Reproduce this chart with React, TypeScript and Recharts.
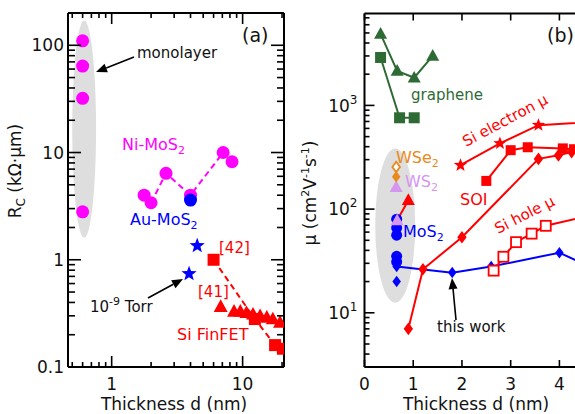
import React from 'react';
import { LineChart, Line, XAxis, YAxis, ReferenceArea } from 'recharts';

const FONT = '"DejaVu Sans", Verdana, sans-serif';

// ---------------- Panel (a) data : contact resistance R_C vs thickness ----------------
const aMonolayer = [
  { x: 0.6, y: 110 },
  { x: 0.6, y: 64 },
  { x: 0.6, y: 32 },
  { x: 0.6, y: 2.8 },
];
const aNiMoS2 = [
  { x: 1.77, y: 4.0 },
  { x: 2.0, y: 3.4 },
  { x: 2.6, y: 6.4 },
  { x: 4.0, y: 4.0 },
  { x: 7.1, y: 10 },
  { x: 8.3, y: 8.2 },
];
const aAuMoS2 = [{ x: 4.0, y: 3.6 }];
const aAuStars = [
  { x: 4.5, y: 1.35 },
  { x: 3.9, y: 0.74 },
];
const aFinFET42 = [
  { x: 6.0, y: 1.0 },
  { x: 12.4, y: 0.28 },
  { x: 17.7, y: 0.16 },
  { x: 20.3, y: 0.148 },
];
const aFinFET41 = [
  { x: 6.8, y: 0.365 },
  { x: 8.6, y: 0.33 },
  { x: 9.6, y: 0.33 },
  { x: 10.7, y: 0.32 },
  { x: 12.0, y: 0.31 },
  { x: 13.6, y: 0.3 },
  { x: 15.3, y: 0.29 },
  { x: 17.0, y: 0.28 },
  { x: 19.3, y: 0.26 },
];
const aXTicks = [0.5, 0.6, 0.7, 0.8, 0.9, 1, 2, 3, 4, 5, 6, 7, 8, 9, 10, 20];
const aYTicks = [
  0.1, 0.2, 0.3, 0.4, 0.5, 0.6, 0.7, 0.8, 0.9,
  1, 2, 3, 4, 5, 6, 7, 8, 9,
  10, 20, 30, 40, 50, 60, 70, 80, 90,
  100, 200,
];

// ---------------- Panel (b) data : mobility vs thickness ----------------
const bGrapheneTri = [
  { x: 0.33, y: 4900 },
  { x: 0.67, y: 2150 },
  { x: 1.02, y: 1850 },
  { x: 1.4, y: 3000 },
];
const bGrapheneSq = [
  { x: 0.33, y: 2900 },
  { x: 0.72, y: 760 },
  { x: 1.02, y: 760 },
];
const bWSe2Hollow = [{ x: 0.65, y: 255 }];
const bWSe2Filled = [{ x: 0.65, y: 205 }];
const bWS2 = [
  { x: 0.65, y: 163 },
  { x: 0.67, y: 78 },
];
const bRedTri = [
  { x: 0.67, y: 78 },
  { x: 0.9, y: 122 },
];
const bMoS2Circles = [
  { x: 0.66, y: 80 },
  { x: 0.66, y: 66 },
  { x: 0.66, y: 56 },
  { x: 0.66, y: 35 },
  { x: 0.66, y: 31 },
];
const bMoS2Diamond = [{ x: 0.66, y: 20 }];
const bThisWork = [
  { x: 0.66, y: 28 },
  { x: 1.8, y: 24.4 },
  { x: 2.6, y: 27.9 },
  { x: 4.0, y: 38 },
  { x: 5.0, y: 23 },
];
const bSOIDiamond = [
  { x: 0.9, y: 7 },
  { x: 1.2, y: 26.3 },
  { x: 2.0, y: 53.5 },
  { x: 3.57, y: 305 },
  { x: 3.98, y: 330 },
  { x: 4.25, y: 355 },
];
const bSOISquare = [
  { x: 2.5, y: 187 },
  { x: 3.0, y: 370 },
  { x: 3.35, y: 395 },
  { x: 4.07, y: 385 },
  { x: 4.3, y: 378 },
];
const bSiElectron = [
  { x: 1.97, y: 265 },
  { x: 2.78, y: 430 },
  { x: 3.57, y: 645 },
  { x: 5.0, y: 710 },
];
const bSiHole = [
  { x: 2.65, y: 25.5 },
  { x: 2.85, y: 34.7 },
  { x: 3.11, y: 48 },
  { x: 3.43, y: 58 },
  { x: 3.72, y: 69 },
  { x: 5.0, y: 95 },
];
const bXTicks = [0, 1, 2, 3, 4];
const bYTicks = [
  3, 4, 5, 6, 7, 8, 9,
  10, 20, 30, 40, 50, 60, 70, 80, 90,
  100, 200, 300, 400, 500, 600, 700, 800, 900,
  1000, 2000, 3000, 4000, 5000, 6000, 7000,
];

// ---------------- colours ----------------
const MAGENTA = '#ff00ff';
const BLUE = '#0000ff';
const RED = '#ff0000';
const GREEN = '#2e6b34';
const ORANGE = '#e8891c';
const LAVENDER = '#d596ef';
const GRAYFILL = '#dedede';

type Shape = 'circle' | 'square' | 'triangle' | 'diamond' | 'star';

function Marker({ shape, cx, cy, s, color, hollow }: any) {
  const fill = hollow ? '#ffffff' : color;
  const stroke = hollow ? color : 'none';
  const sw = hollow ? 1.8 : 0;
  const h = s / 2;
  if (shape === 'circle') return <circle cx={cx} cy={cy} r={h} fill={fill} stroke={stroke} strokeWidth={sw} />;
  if (shape === 'square')
    return <rect x={cx - h} y={cy - h} width={s} height={s} fill={fill} stroke={stroke} strokeWidth={sw} />;
  if (shape === 'triangle')
    return (
      <polygon
        points={`${cx},${cy - h * 1.05} ${cx + h},${cy + h * 0.75} ${cx - h},${cy + h * 0.75}`}
        fill={fill}
        stroke={stroke}
        strokeWidth={sw}
      />
    );
  if (shape === 'diamond')
    return (
      <polygon
        points={`${cx},${cy - h * 1.15} ${cx + h * 0.85},${cy} ${cx},${cy + h * 1.15} ${cx - h * 0.85},${cy}`}
        fill={fill}
        stroke={stroke}
        strokeWidth={sw}
      />
    );
  const pts: string[] = [];
  for (let i = 0; i < 10; i++) {
    const r = i % 2 ? h * 0.42 : h;
    const a = (-90 + 36 * i) * (Math.PI / 180);
    pts.push(`${cx + r * Math.cos(a)},${cy + r * Math.sin(a)}`);
  }
  return <polygon points={pts.join(' ')} fill={fill} stroke={stroke} strokeWidth={sw} />;
}

const dotOf = (shape: Shape, s: number, color: string, hollow = false) => (props: any) => {
  const { cx, cy, index } = props;
  if (cx == null || cy == null || !isFinite(cx) || !isFinite(cy)) return <g key={`n${index}`} />;
  return <Marker key={`m${index}`} shape={shape} cx={cx} cy={cy} s={s} color={color} hollow={hollow} />;
};

const isMajorLog = (v: number) => Math.abs(Math.log10(v) - Math.round(Math.log10(v))) < 1e-9;

type TickOpts = {
  side: 'bottom' | 'top' | 'left' | 'right';
  isMajor: (v: number) => boolean;
  major: number;
  minor: number;
  label?: (v: number) => React.ReactNode;
  off?: number;
};

const makeTick = (o: TickOpts) => (props: any) => {
  const { x, y, payload } = props;
  const v = payload.value;
  const major = o.isMajor(v);
  const len = major ? o.major : o.minor;
  let ln;
  if (o.side === 'bottom') ln = <line x1={x} y1={y} x2={x} y2={y - len} />;
  else if (o.side === 'top') ln = <line x1={x} y1={y} x2={x} y2={y + len} />;
  else if (o.side === 'left') ln = <line x1={x} y1={y} x2={x + len} y2={y} />;
  else ln = <line x1={x} y1={y} x2={x - len} y2={y} />;
  let lab = null;
  if (o.label && major) {
    if (o.side === 'bottom')
      lab = (
        <text x={x} y={y + (o.off ?? 23)} textAnchor="middle" fontSize={17} fontFamily={FONT} fill="#111">
          {o.label(v)}
        </text>
      );
    else if (o.side === 'left')
      lab = (
        <text x={x - (o.off ?? 4)} y={y} dy="0.36em" textAnchor="end" fontSize={17} fontFamily={FONT} fill="#111">
          {o.label(v)}
        </text>
      );
  }
  return (
    <g stroke="#000" strokeWidth={1.6}>
      {ln}
      <g stroke="none">{lab}</g>
    </g>
  );
};

const axisLine = { stroke: '#000', strokeWidth: 2 };

const ellipseShape = (p: any) => (
  <ellipse cx={p.x + p.width / 2} cy={p.y + p.height / 2} rx={p.width / 2} ry={p.height / 2} fill={GRAYFILL} />
);

function PanelA() {
  const common = {
    type: 'number' as const,
    scale: 'log' as const,
    allowDataOverflow: true,
    interval: 0 as const,
    tickSize: 0,
    tickMargin: 0,
    axisLine,
    tickLine: false,
  };
  return (
    <LineChart width={290} height={414} margin={{ top: 12, right: 5, bottom: 46, left: 67 }}>
      <XAxis
        xAxisId="b"
        dataKey="x"
        {...common}
        domain={[0.464, 20.7]}
        ticks={aXTicks}
        height={1}
        tick={makeTick({ side: 'bottom', isMajor: isMajorLog, major: 11, minor: 5, label: (v) => String(v) })}
      />
      <XAxis
        xAxisId="t"
        dataKey="x"
        orientation="top"
        {...common}
        domain={[0.464, 20.7]}
        ticks={aXTicks}
        height={1}
        tick={makeTick({ side: 'top', isMajor: isMajorLog, major: 11, minor: 5 })}
      />
      <YAxis
        yAxisId="l"
        {...common}
        domain={[0.1, 200]}
        ticks={aYTicks}
        width={1}
        tick={makeTick({ side: 'left', isMajor: isMajorLog, major: 13, minor: 7, label: (v) => String(v), off: 4 })}
      />
      <YAxis
        yAxisId="r"
        orientation="right"
        {...common}
        domain={[0.1, 200]}
        ticks={aYTicks}
        width={1}
        tick={makeTick({ side: 'right', isMajor: isMajorLog, major: 13, minor: 7 })}
      />
      <ReferenceArea xAxisId="b" yAxisId="l" x1={0.5} x2={0.76} y1={1.6} y2={170} shape={ellipseShape} />
      <Line xAxisId="b" yAxisId="l" data={aMonolayer} dataKey="y" stroke="none" dot={dotOf('circle', 13, MAGENTA)} activeDot={false} isAnimationActive={false} />
      <Line xAxisId="b" yAxisId="l" data={aNiMoS2} dataKey="y" stroke={MAGENTA} strokeWidth={2} strokeDasharray="6 4" dot={dotOf('circle', 13, MAGENTA)} activeDot={false} isAnimationActive={false} />
      <Line xAxisId="b" yAxisId="l" data={aAuMoS2} dataKey="y" stroke="none" dot={dotOf('circle', 13, BLUE)} activeDot={false} isAnimationActive={false} />
      <Line xAxisId="b" yAxisId="l" data={aAuStars} dataKey="y" stroke="none" dot={dotOf('star', 16, BLUE)} activeDot={false} isAnimationActive={false} />
      <Line xAxisId="b" yAxisId="l" data={aFinFET42} dataKey="y" stroke={RED} strokeWidth={2} strokeDasharray="6 4" dot={dotOf('square', 12, RED)} activeDot={false} isAnimationActive={false} />
      <Line xAxisId="b" yAxisId="l" data={aFinFET41} dataKey="y" stroke="none" dot={dotOf('triangle', 14, RED)} activeDot={false} isAnimationActive={false} />
    </LineChart>
  );
}

const sup = (n: number) => (
  <>
    10
    <tspan fontSize={12} dy={-8}>
      {n}
    </tspan>
  </>
);

function PanelB() {
  const commonX = {
    type: 'number' as const,
    allowDataOverflow: true,
    interval: 0 as const,
    tickSize: 0,
    tickMargin: 0,
    axisLine,
    tickLine: false,
  };
  return (
    <LineChart width={285} height={414} margin={{ top: 12.5, right: 0, bottom: 46, left: 73.5 }}>
      <XAxis
        xAxisId="b"
        dataKey="x"
        {...commonX}
        domain={[0, 4.32]}
        ticks={bXTicks}
        height={1}
        tick={makeTick({ side: 'bottom', isMajor: () => true, major: 7, minor: 7, label: (v) => String(v) })}
      />
      <XAxis
        xAxisId="t"
        dataKey="x"
        orientation="top"
        {...commonX}
        domain={[0, 4.32]}
        ticks={bXTicks}
        height={1}
        tick={makeTick({ side: 'top', isMajor: () => true, major: 7, minor: 7 })}
      />
      <YAxis
        yAxisId="l"
        {...commonX}
        scale="log"
        domain={[3, 7700]}
        ticks={bYTicks}
        width={1}
        tick={makeTick({ side: 'left', isMajor: isMajorLog, major: 10, minor: 5, label: (v) => sup(Math.round(Math.log10(v))), off: 7 })}
      />
      <ReferenceArea xAxisId="b" yAxisId="l" x1={0.22} x2={1.04} y1={12.5} y2={385} shape={ellipseShape} />
      <Line xAxisId="b" yAxisId="l" data={bGrapheneTri} dataKey="y" stroke={GREEN} strokeWidth={2} dot={dotOf('triangle', 13, GREEN)} activeDot={false} isAnimationActive={false} />
      <Line xAxisId="b" yAxisId="l" data={bGrapheneSq} dataKey="y" stroke={GREEN} strokeWidth={2} dot={dotOf('square', 11, GREEN)} activeDot={false} isAnimationActive={false} />
      <Line xAxisId="b" yAxisId="l" data={bThisWork} dataKey="y" stroke={BLUE} strokeWidth={2} dot={dotOf('diamond', 10, BLUE)} activeDot={false} isAnimationActive={false} />
      <Line xAxisId="b" yAxisId="l" data={bMoS2Circles} dataKey="y" stroke="none" dot={dotOf('circle', 11, BLUE)} activeDot={false} isAnimationActive={false} />
      <Line xAxisId="b" yAxisId="l" data={bMoS2Diamond} dataKey="y" stroke="none" dot={dotOf('diamond', 10, BLUE)} activeDot={false} isAnimationActive={false} />
      <Line xAxisId="b" yAxisId="l" data={bRedTri} dataKey="y" stroke={RED} strokeWidth={2} dot={(p: any) => (p.index === 1 ? dotOf('triangle', 13, RED)(p) : <g key={`e${p.index}`} />)} activeDot={false} isAnimationActive={false} />
      <Line xAxisId="b" yAxisId="l" data={bWS2} dataKey="y" stroke="none" dot={dotOf('triangle', 13, LAVENDER)} activeDot={false} isAnimationActive={false} />
      <Line xAxisId="b" yAxisId="l" data={bWSe2Filled} dataKey="y" stroke="none" dot={dotOf('diamond', 10, ORANGE)} activeDot={false} isAnimationActive={false} />
      <Line xAxisId="b" yAxisId="l" data={bWSe2Hollow} dataKey="y" stroke="none" dot={dotOf('diamond', 9, ORANGE, true)} activeDot={false} isAnimationActive={false} />
      <Line xAxisId="b" yAxisId="l" data={bSiHole} dataKey="y" stroke={RED} strokeWidth={2} dot={dotOf('square', 10, RED, true)} activeDot={false} isAnimationActive={false} />
      <Line xAxisId="b" yAxisId="l" data={bSOIDiamond} dataKey="y" stroke={RED} strokeWidth={2} dot={dotOf('diamond', 11, RED)} activeDot={false} isAnimationActive={false} />
      <Line xAxisId="b" yAxisId="l" data={bSOISquare} dataKey="y" stroke={RED} strokeWidth={2} dot={dotOf('square', 10, RED)} activeDot={false} isAnimationActive={false} />
      <Line xAxisId="b" yAxisId="l" data={bSiElectron} dataKey="y" stroke={RED} strokeWidth={2} dot={dotOf('star', 14, RED)} activeDot={false} isAnimationActive={false} />
    </LineChart>
  );
}

function Arrow({ x1, y1, x2, y2 }: any) {
  const a = Math.atan2(y2 - y1, x2 - x1);
  const L = 11;
  const Wd = 4.5;
  const bx = x2 - L * Math.cos(a);
  const by = y2 - L * Math.sin(a);
  const p1 = `${bx + Wd * Math.sin(a)},${by - Wd * Math.cos(a)}`;
  const p2 = `${bx - Wd * Math.sin(a)},${by + Wd * Math.cos(a)}`;
  return (
    <g>
      <line x1={x1} y1={y1} x2={bx} y2={by} stroke="#000" strokeWidth={1.6} />
      <polygon points={`${x2},${y2} ${p1} ${p2}`} fill="#000" />
    </g>
  );
}

export default function App() {
  return (
    <div
      style={{
        position: 'absolute',
        left: 0,
        top: 0,
        width: 575,
        height: 414,
        background: '#fff',
        overflow: 'hidden',
        fontFamily: FONT,
      }}
    >
      <div style={{ position: 'absolute', left: 0, top: 0 }}>
        <PanelA />
      </div>
      <div style={{ position: 'absolute', left: 290, top: 0 }}>
        <PanelB />
      </div>
      <svg
        width={575}
        height={414}
        style={{ position: 'absolute', left: 0, top: 0, pointerEvents: 'none' }}
        fontFamily={FONT}
      >
        {/* panel (a) annotations */}
        <text x={242} y={42} fontSize={19} fill="#111">(a)</text>
        <text x={137} y={58} fontSize={15} fill="#111">monolayer</text>
        <Arrow x1={134} y1={57} x2={96} y2={72} />
        <text x={122} y={150} fontSize={16} fill={MAGENTA}>
          Ni-MoS<tspan fontSize={11} dy={4}>2</tspan>
        </text>
        <text x={130} y={225} fontSize={16} fill={BLUE}>
          Au-MoS<tspan fontSize={11} dy={4}>2</tspan>
        </text>
        <text x={219} y={253} fontSize={15} fill={RED}>[42]</text>
        <text x={198} y={297} fontSize={15} fill={RED}>[41]</text>
        <text x={177} y={340} fontSize={16} fill={RED}>Si FinFET</text>
        <text x={90} y={312} fontSize={15} fill="#111">
          10<tspan fontSize={11} dy={-7}>-9</tspan>
          <tspan dy={7}> Torr</tspan>
        </text>
        <Arrow x1={148} y1={298} x2={183} y2={279} />
        <text transform="translate(21,171) rotate(-90)" textAnchor="middle" fontSize={17} fill="#111">
          R<tspan fontSize={12} dy={4}>C</tspan>
          <tspan dy={-4}> (kΩ·μm)</tspan>
        </text>
        <text x={174} y={410} textAnchor="middle" fontSize={17} fill="#111">Thickness d (nm)</text>

        {/* panel (b) annotations */}
        <text x={547} y={42} fontSize={19} fill="#111">(b)</text>
        <text x={411} y={100} fontSize={15} fill={GREEN}>graphene</text>
        <text x={396} y={163} fontSize={16} fill={ORANGE}>
          WSe<tspan fontSize={11} dy={4}>2</tspan>
        </text>
        <text x={405} y={187} fontSize={16} fill={LAVENDER}>
          WS<tspan fontSize={11} dy={4}>2</tspan>
        </text>
        <text x={403} y={237} fontSize={16} fill={BLUE}>
          MoS<tspan fontSize={11} dy={4}>2</tspan>
        </text>
        <text x={460} y={205} fontSize={16} fill={RED}>SOI</text>
        <text transform="translate(466,147) rotate(-28)" fontSize={15} fill={RED}>Si electron μ</text>
        <text transform="translate(498,234) rotate(-27)" fontSize={15} fill={RED}>Si hole μ</text>
        <text x={437} y={332} fontSize={15} fill="#111">this work</text>
        <Arrow x1={456} y1={320} x2={452} y2={278} />
        <text transform="translate(316,193) rotate(-90)" textAnchor="middle" fontSize={17} fill="#111">
          μ (cm<tspan fontSize={11} dy={-7}>2</tspan>
          <tspan dy={7}>V</tspan>
          <tspan fontSize={11} dy={-7}>-1</tspan>
          <tspan dy={7}>s</tspan>
          <tspan fontSize={11} dy={-7}>-1</tspan>
          <tspan dy={7}>)</tspan>
        </text>
        <text x={476} y={410} textAnchor="middle" fontSize={17} fill="#111">Thickness d (nm)</text>
      </svg>
    </div>
  );
}
